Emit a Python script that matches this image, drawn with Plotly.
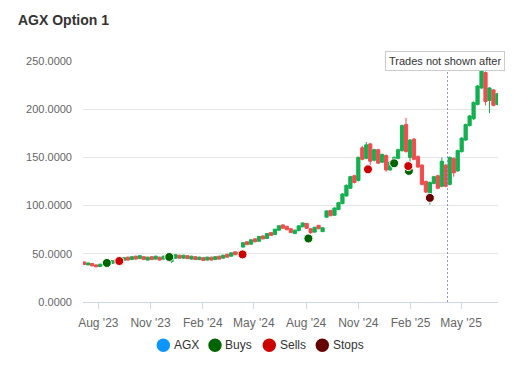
import plotly.graph_objects as go
import pandas as pd

# ---- data ----
opens = [41.5, 38.5, 40.0, 38.5, 36.8, 38.2, 41.8, 40.0, 43.5, 41.5,
         43.0, 46.5, 44.0, 47.5, 45.0, 47.0, 43.5, 47.0, 44.5, 46.5,
         44.5, 45.5, 42.0, 45.5, 48.5, 45.5, 48.0, 44.5, 47.0, 44.0,
         46.0, 43.5, 46.5, 44.0, 47.5, 45.5, 49.5, 47.5, 52.0, 49.0,
         57.0, 62.5, 60.0, 65.5, 63.0, 68.5, 66.0, 72.0, 70.0, 74.5,
         80.0, 78.5, 76.0, 71.0, 74.0, 78.0, 81.5, 76.0, 72.5, 79.5,
         73.0, 88.0, 95.0, 90.0, 96.0, 102.0, 110.0, 118.0, 131.0, 126.0,
         160.0, 149.0, 164.0, 147.0, 158.0, 145.0, 152.0, 137.0, 144.0, 149.0,
         157.0, 184.0, 150.0, 169.0, 151.0, 142.0, 125.0, 112.0, 123.0, 131.0,
         120.0, 142.0, 122.0, 149.0, 136.0, 156.0, 168.0, 183.0, 190.0, 205.0,
         222.0, 238.0, 209.0, 220.0, 205.0]
highs = [42.0, 41.0, 40.5, 39.0, 39.7, 41.3, 42.3, 43.5, 44.0, 45.0,
         46.5, 47.0, 47.5, 48.0, 48.5, 47.5, 47.0, 47.5, 48.0, 47.0,
         48.0, 49.0, 46.5, 49.5, 49.0, 49.0, 48.5, 48.0, 47.5, 47.0,
         46.5, 47.0, 47.0, 47.5, 48.0, 49.0, 50.0, 51.5, 52.5, 52.0,
         62.0, 63.0, 65.0, 66.0, 68.5, 69.0, 71.5, 72.5, 76.0, 79.5,
         80.5, 79.0, 76.5, 75.0, 79.5, 82.5, 82.0, 76.5, 78.0, 80.0,
         77.5, 95.0, 95.5, 98.0, 104.0, 113.0, 122.0, 131.0, 132.0, 151.0,
         162.0, 166.0, 165.0, 159.0, 159.0, 154.0, 153.0, 146.0, 151.0, 159.0,
         184.0, 191.0, 169.0, 170.0, 152.0, 143.0, 126.0, 125.0, 131.0, 132.0,
         150.0, 143.0, 151.0, 150.0, 158.0, 171.0, 185.0, 194.0, 208.0, 225.0,
         244.0, 239.0, 223.0, 221.0, 217.0]
lows = [38.5, 38.0, 37.0, 36.0, 36.3, 37.7, 38.7, 39.5, 40.0, 41.0,
        42.5, 43.0, 43.5, 44.0, 44.5, 43.5, 43.0, 43.5, 44.0, 43.0,
        44.0, 45.0, 40.5, 45.0, 45.0, 45.0, 44.5, 44.0, 43.5, 43.5,
        42.5, 43.0, 43.0, 43.5, 44.0, 45.0, 46.0, 47.0, 48.5, 48.5,
        56.5, 59.0, 59.5, 62.0, 62.5, 65.0, 65.5, 68.5, 69.5, 74.0,
        76.0, 74.5, 71.5, 70.5, 73.5, 77.5, 76.0, 70.5, 72.0, 75.5,
        72.5, 87.5, 89.0, 89.5, 95.5, 101.5, 109.5, 117.5, 123.0, 125.0,
        147.0, 148.0, 139.0, 146.0, 143.0, 144.0, 135.0, 136.0, 143.0, 148.0,
        156.0, 155.0, 138.0, 147.0, 139.0, 121.0, 113.0, 101.0, 122.0, 117.0,
        119.0, 119.0, 121.0, 130.0, 135.0, 155.0, 167.0, 182.0, 189.0, 204.0,
        221.0, 204.0, 196.0, 203.0, 204.0]
closes = [39.0, 40.5, 37.5, 36.5, 39.2, 40.8, 39.2, 43.0, 40.5, 44.5,
          46.0, 43.5, 47.0, 44.5, 48.0, 44.0, 46.5, 44.0, 47.5, 43.5,
          47.5, 48.5, 46.0, 49.0, 45.5, 48.5, 45.0, 47.5, 44.0, 46.5,
          43.0, 46.5, 43.5, 47.0, 44.5, 48.5, 46.5, 51.0, 49.0, 51.5,
          61.5, 59.5, 64.5, 62.5, 68.0, 65.5, 71.0, 69.0, 75.5, 79.0,
          76.5, 75.0, 72.0, 74.5, 79.0, 82.0, 76.5, 72.0, 77.5, 76.0,
          77.0, 94.5, 89.5, 97.5, 103.0, 112.0, 121.0, 130.0, 124.0, 150.0,
          148.0, 163.0, 146.0, 158.0, 144.0, 153.0, 137.0, 145.0, 150.0, 158.0,
          183.0, 156.0, 168.0, 148.0, 140.0, 122.0, 114.0, 124.0, 130.0, 118.0,
          146.0, 120.0, 150.0, 134.0, 157.0, 170.0, 184.0, 193.0, 207.0, 224.0,
          241.0, 208.0, 222.0, 204.0, 216.0]
dates = pd.date_range("2023-07-07", periods=len(closes), freq="7D")

buy_dates = ["2023-08-16", "2023-12-04", "2024-08-05", "2025-01-03", "2025-01-29"]
buy_prices = [40.5, 46.7, 65.9, 143.9, 136.0]
sell_dates = ["2023-09-07", "2024-04-11", "2024-11-18", "2025-01-28"]
sell_prices = [42.5, 49.4, 137.6, 141.0]
stop_dates = ["2025-03-07"]
stop_prices = [108.0]

legend_names = ["AGX", "Buys", "Sells", "Stops"]
legend_colors = ["#0a95ff", "#006400", "#cc0000", "#660000"]

cutoff_date = "2025-04-07"
title_text = "AGX Option 1"
note_text = "Trades not shown after"

FONT = "Liberation Sans, Arial, Helvetica, sans-serif"
UP = "#12b04f"
DOWN = "#ef4d4d"

fig = go.Figure()
fig.add_trace(go.Candlestick(
    x=dates, open=opens, high=highs, low=lows, close=closes,
    name="AGX", showlegend=False,
    increasing=dict(line=dict(color=UP, width=1), fillcolor=UP),
    decreasing=dict(line=dict(color=DOWN, width=1), fillcolor=DOWN),
    whiskerwidth=0,
))

def dots(xs, ys, color, name):
    fig.add_trace(go.Scatter(x=xs, y=ys, mode="markers", name=name, showlegend=False,
                             marker=dict(color=color, size=9, line=dict(color="white", width=1))))

dots(buy_dates, buy_prices, "#006400", "Buys")
dots(sell_dates, sell_prices, "#cc0000", "Sells")
dots(stop_dates, stop_prices, "#660000", "Stops")

# legend (drawn as circles + labels, Highcharts style spacing)
leg_circle_x = [0.1935, 0.3181, 0.4489, 0.5766]
leg_text_x = [0.2137, 0.3374, 0.4692, 0.5969]
leg_y = -0.1797
for name, color, cx, tx in zip(legend_names, legend_colors, leg_circle_x, leg_text_x):
    fig.add_shape(type="circle", xref="paper", yref="paper", xsizemode="pixel", ysizemode="pixel",
                  xanchor=cx, yanchor=leg_y, x0=-6.7, x1=6.7, y0=-6.7, y1=6.7,
                  fillcolor=color, line=dict(width=0))
    fig.add_annotation(xref="paper", yref="paper", x=tx, y=leg_y, xanchor="left", yanchor="middle",
                       text=name, showarrow=False, font=dict(family=FONT, size=12, color="#333333"))

fig.add_shape(type="line", xref="x", yref="paper", x0=cutoff_date, x1=cutoff_date,
              y0=0, y1=0.961, line=dict(color="#8c8cde", width=1, dash="2px,2px"))

fig.add_annotation(xref="paper", yref="paper", x=0.7277, y=1.0008, xanchor="left", yanchor="middle",
                   text=note_text, showarrow=False, font=dict(family=FONT, size=11, color="#333333"),
                   bgcolor="white", bordercolor="#cccccc", borderwidth=1, borderpad=3)

fig.update_layout(
    width=522, height=372,
    margin=dict(l=75, r=32, t=53, b=78),
    paper_bgcolor="white", plot_bgcolor="white",
    font=dict(family=FONT, color="#666666"),
    title=dict(text="<b>" + title_text + "</b>", x=10 / 522, xanchor="left", xref="container",
               y=1 - 12 / 372, yanchor="middle", yref="container",
               font=dict(family=FONT, size=14, color="#333333")),
    showlegend=False,
    boxgap=0.1, boxgroupgap=0.1,
    xaxis=dict(type="date", range=["2023-07-05", "2025-07-05"], rangeslider=dict(visible=False),
               tick0="2023-08-01", dtick="M3", tickformat="%b '%y",
               ticks="outside", ticklen=6, tickcolor="#ccd6eb", showline=True, linecolor="#ccd6eb",
               showgrid=False, zeroline=False, ticklabelstandoff=4,
               tickfont=dict(size=12, color="#666666")),
    yaxis=dict(range=[0, 250], dtick=50, tickformat=".4f", showgrid=True, gridcolor="#e6e6e6",
               zeroline=False, showline=False, ticks="", ticklabelstandoff=10,
               tickfont=dict(size=11, color="#666666")),
    hovermode=False,
)

fig.write_html("out.html")
